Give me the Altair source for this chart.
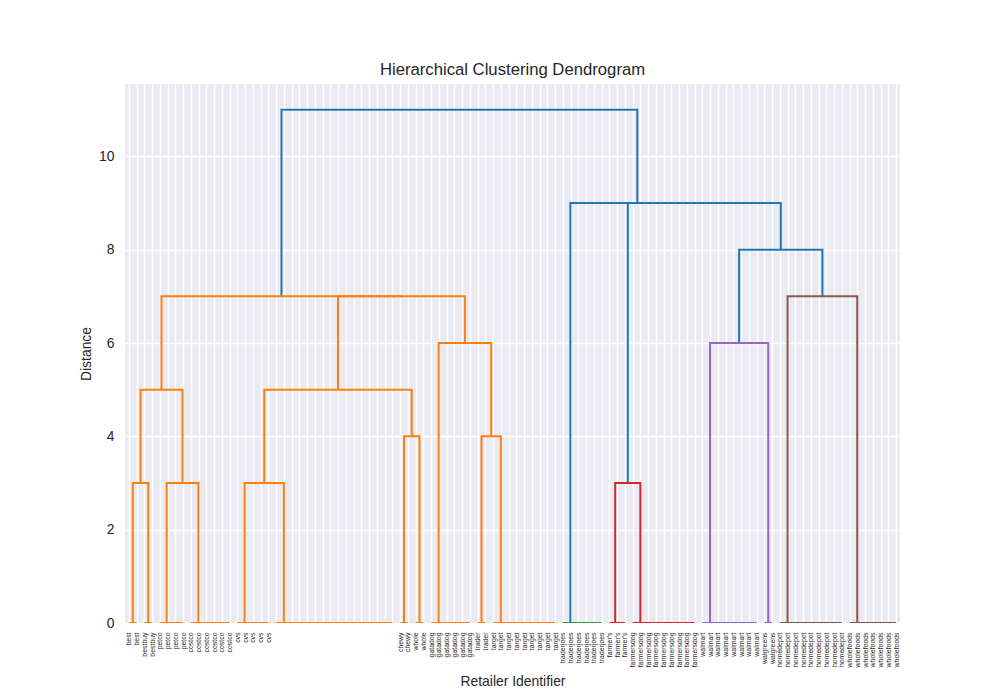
import json
import altair as alt
import pandas as pd

# ---- data -------------------------------------------------------------
# Groups of identical leaves (merged at distance 0), left to right
GROUP_LABELS = ["best", "bestbuy", "petco", "costco", "cvs", "", "chewy", "whole",
                "gatadog", "trader", "target", "traderjoes", "farmer's", "farmersdog",
                "walmart", "walgreens", "homedepot", "wholefoods"]
GROUP_SIZES = [2, 2, 4, 6, 5, 16, 2, 2, 6, 2, 9, 6, 3, 9, 8, 2, 9, 7]

# Merges above the groups: ids 0-17 are groups, merge k creates node 18+k
MERGE_LEFT = [0, 2, 18, 4, 6, 21, 9, 8, 23, 20, 12, 14, 16, 29, 28, 11, 27]
MERGE_RIGHT = [1, 3, 19, 5, 7, 22, 10, 24, 25, 26, 13, 15, 17, 30, 31, 32, 33]
MERGE_HEIGHT = [3, 3, 5, 3, 4, 5, 4, 6, 7, 7, 3, 6, 7, 8, 9, 9, 11]

Y_TICKS = [0, 2, 4, 6, 8, 10]
COLOR_KEYS = ["C0", "C1", "C2", "C3", "C4", "C5"]
COLOR_HEX = ["#1f77b4", "#ff7f0e", "#2ca02c", "#d62728", "#9467bd", "#8c564b"]

# ---- dendrogram geometry (scipy conventions: leaf i at 10*i+5) ----------
leaf_labels = []
for lab, n in zip(GROUP_LABELS, GROUP_SIZES):
    leaf_labels += [lab] * n
N = len(leaf_labels)

ng = len(GROUP_SIZES)
node_x, node_h, children, group_links = {}, {}, {}, {}
start = 0
for g, n in enumerate(GROUP_SIZES):
    xs = [10 * (start + k) + 5 for k in range(n)]
    gl = []
    c = xs[-1]
    for k in range(n - 2, -1, -1):
        gl.append((xs[k], 0.0, c, 0.0))
        c = (xs[k] + c) / 2
    node_x[g] = c
    node_h[g] = 0.0
    group_links[g] = gl
    start += n

for m, (a, b, h) in enumerate(zip(MERGE_LEFT, MERGE_RIGHT, MERGE_HEIGHT)):
    nid = ng + m
    node_x[nid] = (node_x[a] + node_x[b]) / 2
    node_h[nid] = float(h)
    children[nid] = (a, b)
root = ng + len(MERGE_HEIGHT) - 1
thr = 0.7 * max(MERGE_HEIGHT)
ymax = max(MERGE_HEIGHT) * 1.05

rows = []
state = {"link": 0, "color": 0}


def add_link(xa, ha, xb, hb, h, col):
    pts = [(xa, ha), (xa, h), (xb, h), (xb, hb)]
    for o, (x, y) in enumerate(pts):
        rows.append(dict(link=state["link"], ord=o, x=x, y=y, color=col))
    state["link"] += 1


def next_color():
    state["color"] += 1
    return COLOR_KEYS[state["color"]]


def walk(nid, col):
    if nid < ng:
        if col is None:
            col = next_color()
        for (xa, ha, xb, hb) in group_links[nid]:
            add_link(xa, ha, xb, hb, 0.0, col)
        return
    h = node_h[nid]
    a, b = children[nid]
    if h >= thr:
        mycol, childcol = "C0", None
    else:
        if col is None:
            col = next_color()
        mycol, childcol = col, col
    add_link(node_x[a], node_h[a], node_x[b], node_h[b], h, mycol)
    walk(a, childcol)
    walk(b, childcol)


walk(root, None)
df = pd.DataFrame(rows)

x_ticks = [10 * i + 5 for i in range(N)]
label_expr = json.dumps(leaf_labels) + "[floor(datum.value / 10)]"

FONT = "Liberation Sans"
TXT = "#262626"

chart = alt.Chart(df).mark_line(strokeWidth=2, clip=True).encode(
    x=alt.X(
        "x:Q",
        scale=alt.Scale(domain=[0, 10 * N], nice=False, zero=False),
        axis=alt.Axis(
            values=x_ticks, labelExpr=label_expr, labelAngle=270,
            labelAlign="right", labelBaseline="middle", labelFontSize=6.9,
            labelPadding=9, labelOverlap=False, labelFlush=False,
            title="Retailer Identifier", titleY=62, titleBaseline="alphabetic",
        ),
    ),
    y=alt.Y(
        "y:Q",
        scale=alt.Scale(domain=[0, ymax], nice=False),
        axis=alt.Axis(
            values=Y_TICKS, format="d", labelFontSize=13.9, labelPadding=11,
            title="Distance", titleX=-39, titleY=269.5, titleBaseline="middle",
            titleAngle=270,
        ),
    ),
    color=alt.Color("color:N", scale=alt.Scale(domain=COLOR_KEYS, range=COLOR_HEX), legend=None),
    detail="link:N",
    order="ord:Q",
).properties(
    width=775,
    height=539,
    background="white",
    autosize=alt.AutoSizeParams(type="none"),
    padding={"left": 117, "top": 76, "right": 75, "bottom": 70},
    title=alt.TitleParams(
        "Hierarchical Clustering Dendrogram", fontSize=16.7, font=FONT,
        fontWeight="normal", color=TXT, anchor="middle", offset=5,
    ),
).configure_view(
    fill="#EAEAF2", stroke=None,
).configure_axis(
    domain=False, ticks=False, grid=True, gridColor="white", gridWidth=1.4,
    gridOpacity=1, labelFont=FONT, titleFont=FONT, labelColor=TXT, titleColor=TXT,
    titleFontSize=13.9, titleFontWeight="normal",
)

chart.save("out.html", embed_options={"renderer": "svg", "actions": False})
